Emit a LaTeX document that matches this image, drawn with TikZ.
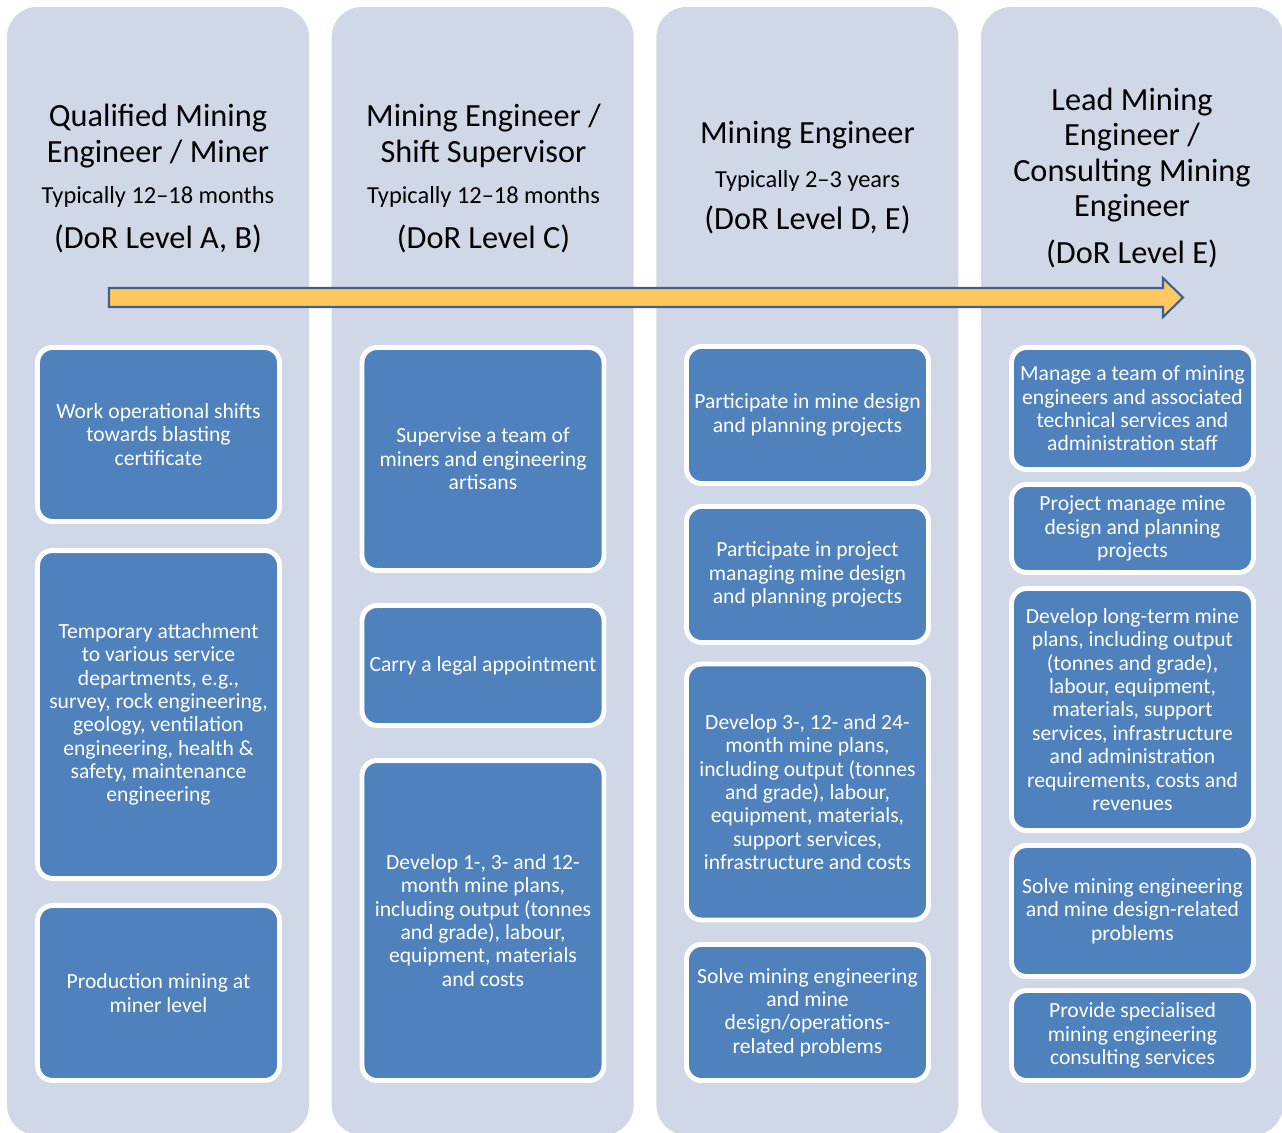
\documentclass[tikz,border=0pt]{standalone}
\usepackage{fontspec}
\setmainfont{Carlito}
\definecolor{panelgrey}{HTML}{D0D8E8}
\definecolor{taskblue}{HTML}{4F81BD}
\definecolor{arrowyellow}{HTML}{FFC95F}
\definecolor{arrowblue}{HTML}{3F5F8F}

\begin{document}
\begin{tikzpicture}[x=0.02cm, y=-0.02cm,
  panel/.style={fill=panelgrey, rounded corners=0.6cm},
  roletitle/.style={align=center, font=\fontsize{18.4}{20.1}\selectfont},
  period/.style={font=\fontsize{13.9}{15}\selectfont},
  dorlevel/.style={font=\fontsize{18.4}{19.9}\selectfont},
  task/.style={draw=white, line width=2.8pt, fill=taskblue, rounded corners=0.3cm,
    text=white, align=center, minimum width=4.84cm, inner sep=1pt,
    font=\fontsize{12.3}{13.3}\selectfont}]
  \useasboundingbox (0,0) rectangle (1282,1133);

  % background columns
  \foreach \i in {0,...,3}
    \fill[panel] ({7+324.7*\i},7) rectangle ++(302,1128);

  % progression arrow
  \draw[fill=arrowyellow, draw=arrowblue, line width=1.2pt]
    (109,288) -- (1163,288) -- (1163,278) -- (1183,297.5)
    -- (1163,317) -- (1163,307) -- (109,307) -- cycle;

  % column 1
  \node[roletitle] (t1) at (158,136) {Qualified Mining\\Engineer / Miner};
  \node[period] (p1) at (158,197) {Typically 12–18 months};
  \node[dorlevel] (l1) at (158,239) {(DoR Level A, B)};
  \node[task, minimum height=3.48cm] (a1) at (158.5,434.5)
    {Work operational shifts\\towards blasting\\certificate};
  \node[task, minimum height=6.56cm] (a2) at (158.5,714.5)
    {Temporary attachment\\to various service\\departments, e.g.,\\survey, rock engineering,\\geology, ventilation\\engineering, health \&\\safety, maintenance\\engineering};
  \node[task, minimum height=3.50cm] (a3) at (158.5,993)
    {Production mining at\\miner level};

  % column 2
  \node[roletitle] (t2) at (483.5,136) {Mining Engineer /\\Shift Supervisor};
  \node[period] (p2) at (483.5,197) {Typically 12–18 months};
  \node[dorlevel] (l2) at (483.5,239) {(DoR Level C)};
  \node[task, minimum height=4.46cm] (b1) at (483,459)
    {Supervise a team of\\miners and engineering\\artisans};
  \node[task, minimum height=2.40cm] (b2) at (483,665.5)
    {Carry a legal appointment};
  \node[task, minimum height=6.40cm] (b3) at (483,920.5)
    {Develop 1-, 3- and 12-\\month mine plans,\\including output (tonnes\\and grade), labour,\\equipment, materials\\and costs};

  % column 3
  \node[roletitle] (t3) at (807.5,135) {Mining Engineer};
  \node[period] (p3) at (807.5,181) {Typically 2–3 years};
  \node[dorlevel] (l3) at (807.5,220) {(DoR Level D, E)};
  \node[task, minimum height=2.74cm] (c1) at (807.5,415)
    {Participate in mine design\\and planning projects};
  \node[task, minimum height=2.72cm] (c2) at (807.5,574.5)
    {Participate in project\\managing mine design\\and planning projects};
  \node[task, minimum height=5.12cm] (c3) at (807.5,792)
    {Develop 3-, 12- and 24-\\month mine plans,\\including output (tonnes\\and grade), labour,\\equipment, materials,\\support services,\\infrastructure and costs};
  \node[task, minimum height=2.72cm] (c4) at (807.5,1012.5)
    {Solve mining engineering\\and mine\\design/operations-\\related problems};

  % column 4
  \node[roletitle] (t4) at (1132,155) {Lead Mining\\Engineer /\\Consulting Mining\\Engineer};
  \node[dorlevel] (l4) at (1132,254) {(DoR Level E)};
  \node[task, minimum height=2.44cm] (d1) at (1132.5,408.5)
    {Manage a team of mining\\engineers and associated\\technical services and\\administration staff};
  \node[task, minimum height=1.76cm] (d2) at (1132.5,528.5)
    {Project manage mine\\design and planning\\projects};
  \node[task, minimum height=4.84cm] (d3) at (1132.5,709.5)
    {Develop long-term mine\\plans, including output\\(tonnes and grade),\\labour, equipment,\\materials, support\\services, infrastructure\\and administration\\requirements, costs and\\revenues};
  \node[task, minimum height=2.62cm] (d4) at (1132.5,911)
    {Solve mining engineering\\and mine design-related\\problems};
  \node[task, minimum height=1.80cm] (d5) at (1132.5,1035.5)
    {Provide specialised\\mining engineering\\consulting services};
\end{tikzpicture}
\end{document}
